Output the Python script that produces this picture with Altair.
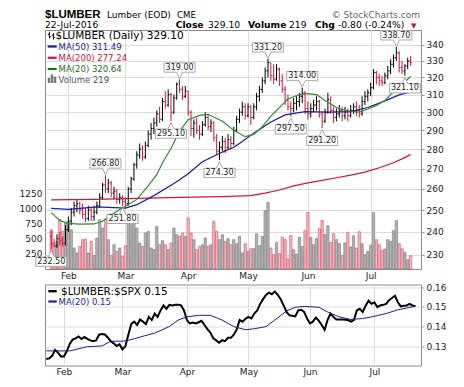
import altair as alt
import pandas as pd

# ---------------- data ----------------
opens = [238,235,234,237,236,235,241,245,249,252,
         253,250,248,246,250,247,249,252,256,262,
         260,263,258,259,255,256,254,253,260,265,
         272,277,280,276,282,288,291,294,299,296,
         306,304,310,300,308,317,313,309,312,300,
         291,294,290,288,293,297,292,294,286,279,
         281,284,281,285,283,290,296,300,303,298,
         303,297,303,309,313,318,324,329,321,319,
         325,318,313,307,303,302,305,306,309,311,
         302,299,302,304,306,299,295,300,307,301,
         297,299,301,298,300,298,301,303,301,299,
         306,309,311,314,323,320,318,317,321,324,
         328,332,335,326,324,327,330]
highs = [240.5,237,239,240,238,243,247,251,254,255,
         254,253,251,252,251,252,254,258,263,266.8,
         265,264,261,260,258,257,256,261,266,273,
         279,283,282,284,290,294,297,301,303,308,
         312,313,311,310,317,319,315,315,312,301,
         296,297,293,295,300,299,296,295,288,284,
         287,286,288,287,292,298,302,306,305,305,
         304,305,311,315,320,326,331.2,329,328,328,
         326,322,315,310,306,308,309,311,314,312,
         306,305,307,309,307,300,302,311,309,303,
         302,304,303,303,302,304,305,306,304,309,
         312,313,317,325,324,322,321,323,327,331,
         334,338.7,336,330,328,332,333]
lows = [232.5,233.5,233,234,233.5,234,240,243,247,249,
        248,246,244.5,245,245,245,248,251,255,258,
        258,256,255,253,253,251.8,252,252,258,264,
        270,275,274,275,281,285,288,292,294,295,
        302,303,295.1,299,307,311,307,308,298,287,
        286,288,285,287,292,290,289,284,277,274.3,
        279,278,280,280,282,289,294,298,296,297,
        293,296,301,306,311,316,320,318,316,318,
        315,311,304,301,297.5,300,301,303,305,299,
        296,297,300,301,297,291.2,294,299,299,294,
        295,297,295,296,295,297,299,298,297,298,
        304,306,309,313,316,315,315,316,319,322,
        326,330,323,322,321.1,325,327]
closes = [235,233.5,237,236,235,241,245,249,252,253,
          250,248,246,250,247,249,252,256,262,260,
          263,258,259,255,256,254,253,260,265,272,
          277,280,276,282,288,291,294,299,296,306,
          304,310,300,308,316,313,309,312,300,291,
          294,290,288,293,297,292,294,286,279,281,
          284,281,285,283,290,296,300,303,298,303,
          297,303,309,313,318,324,329,321,319,325,
          318,313,307,303,302,305,306,309,311,302,
          299,302,304,306,299,295,300,307,301,297,
          299,301,298,300,298,301,303,301,299,306,
          309,311,314,323,320,318,317,321,324,328,
          332,335,326,324,327,329.9,329.1]
volumes = [650,400,457,816,622,760,788,650,348,265,
           374,485,497,265,457,220,513,816,679,816,
           485,220,402,291,348,209,386,762,844,816,
           679,430,374,596,622,348,320,705,402,468,
           402,320,430,679,568,540,596,540,844,596,
           485,320,374,402,513,374,402,788,622,485,
           568,457,502,402,485,419,540,265,419,291,
           336,336,584,386,540,965,1103,348,237,440,
           253,530,485,166,551,320,248,523,374,634,
           937,523,402,502,667,805,568,717,440,584,
           485,419,220,430,606,364,551,348,618,419,
           237,291,391,937,485,402,308,331,485,457,
           634,800,419,336,275,154,219]
ratio = [.1236,.1239,.1252,.1282,.1268,.1249,.1249,.1275,.1312,.1334,
         .1340,.1350,.1337,.1347,.1338,.1330,.1326,.1330,.1359,.1362,
         .1360,.1345,.1326,.1315,.1302,.1310,.1285,.1300,.1359,.1413,
         .1425,.1408,.1436,.1425,.1413,.1449,.1433,.1466,.1449,.1482,
         .1507,.1490,.1510,.1507,.1510,.1511,.1507,.1482,.1433,.1416,
         .1420,.1416,.1422,.1429,.1408,.1387,.1370,.1340,.1330,.1318,
         .1331,.1326,.1343,.1343,.1359,.1385,.1433,.1425,.1440,.1449,
         .1441,.1466,.1482,.1515,.1539,.1560,.1572,.1564,.1577,.1561,
         .1539,.1507,.1474,.1457,.1455,.1452,.1482,.1485,.1474,.1441,
         .1416,.1425,.1446,.1430,.1408,.1384,.1433,.1466,.1449,.1436,
         .1436,.1436,.1435,.1433,.1425,.1433,.1482,.1490,.1474,.1505,
         .1531,.1515,.1523,.1498,.1507,.1510,.1515,.1534,.1545,.1556,
         .1523,.1502,.1505,.1507,.1515,.1507,.1503]

ma20_idx = [0,3,6,10,15,18,22,26,30,34,37,39,42,45,48,52,55,60,64,68,71,74,77,80,83,87,90,93,97,101,105,108,111,114,117,121,124,126]
ma20_val = [248.8,245.2,243.9,243.5,243.6,244.8,248.6,251.8,255,261.5,267,273,280.5,289.5,295.8,298.2,298.8,295,290,286.6,287.8,292,297.8,302.5,307.5,310,310.5,310,305.5,301.8,300.5,300,301.8,303.8,306.6,313.4,317.5,320.6]
ma50_idx = [0,6,16,26,30,36,42,45,48,53,60,64,67,71,77,82,89,97,105,111,117,122,126]
ma50_val = [250.8,250.3,251.5,250.9,252.5,256.8,261.8,264.5,267.5,273.5,278.5,281,284,288.5,294.5,298.5,300.3,300,300.3,302.6,306.4,309.8,311.5]
ma200_idx = [0,15,30,45,60,70,75,80,85,90,95,100,105,110,115,120,123,126]
ma200_val = [254.8,255,255.5,256,256.3,256.8,258,259.5,261.5,263,264.2,265.5,266.8,268.3,270.5,273,275,277.2]
rma_idx = [0,8,14,19,22,26,28,33,37,42,45,48,52,56,60,64,68,71,75,78,82,85,88,93,96,100,104,108,111,116,120,126]
rma_val = [.1277,.1277,.1298,.1302,.1326,.1326,.1330,.1351,.1367,.1400,.1433,.1449,.1457,.1457,.1433,.1400,.1384,.1389,.1400,.1433,.1479,.1498,.1502,.1498,.1474,.1449,.1436,.1441,.1449,.1466,.1485,.1503]

label_idx = [0, 19, 25, 42, 45, 59, 76, 84, 88, 95, 121, 124]
label_val = [232.5, 266.8, 251.8, 295.1, 319.0, 274.3, 331.2, 297.5, 314.0, 291.2, 338.7, 321.1]
label_kind = ['low','high','low','low','high','low','high','low','high','low','high','low']
month_names = ["Feb", "Mar", "Apr", "May", "Jun", "Jul"]
ratio_ticks = [0.13, 0.14, 0.15, 0.16]
price_ticks = [230, 240, 250, 260, 270, 280, 290, 300, 310, 320, 330, 340]
volume_ticks = [250, 500, 750, 1000, 1250]

# ---------------- tables ----------------
dates = pd.bdate_range("2016-01-22", "2016-07-22")
dates = dates[~dates.isin(pd.to_datetime(["2016-02-15", "2016-03-25", "2016-05-30", "2016-07-04"]))]
n = len(dates)
month_idx = [i for i in range(1, n) if dates[i].month != dates[i - 1].month]

df = pd.DataFrame(dict(i=list(range(n)), open=opens, high=highs, low=lows,
                       close=closes, volume=volumes, ratio=ratio))
prev = df["close"].shift(1).fillna(df["open"])
df["dir"] = (df["close"] >= prev).map({True: "up", False: "down"})
df["xo"] = df["i"] - 0.42
df["xc"] = df["i"] + 0.42

ma20 = pd.DataFrame(dict(i=ma20_idx, v=ma20_val))
ma50 = pd.DataFrame(dict(i=ma50_idx, v=ma50_val))
ma200 = pd.DataFrame(dict(i=ma200_idx, v=ma200_val))
rma = pd.DataFrame(dict(i=rma_idx, v=rma_val))
labs = pd.DataFrame(dict(i=label_idx, v=label_val, kind=label_kind))
labs["t"] = labs["v"].map(lambda v: f"{v:.2f}")
ONE = pd.DataFrame({"k": [0]})

# ---------------- scales / axes ----------------
FONT = "DejaVu Sans"
GRID = "#dcdcdc"
MAIN_H = 239
LOW_H = 81
xs = alt.Scale(domain=[-0.44, 127.9], nice=False, zero=False)
ps = alt.Scale(type="log", domain=[224.0, 349.6], nice=False)
vs = alt.Scale(domain=[0, 3957], nice=False)
rs = alt.Scale(domain=[0.1203, 0.1613], nice=False, zero=False)
label_expr = " : ".join(f"datum.value == {m} ? '{lab}'" for m, lab in zip(month_idx, month_names)) + " : ''"

def xaxis():
    return alt.Axis(values=month_idx, labelExpr=label_expr, grid=True, gridColor=GRID,
                    ticks=False, domain=False, labelFontSize=9, labelPadding=2,
                    title=None, minExtent=11, maxExtent=11, labelFlush=False, labelOverlap=False)

def price_axis():
    return alt.Axis(orient="right", values=price_ticks, format="d", grid=True,
                    gridColor=GRID, tickSize=3, tickColor="#999", domain=False,
                    labelFontSize=9, labelPadding=2, title=None, labelOverlap=False)

vol_axis = alt.Axis(orient="left", values=volume_ticks, format="d", grid=False,
                    ticks=False, domain=False, labelFontSize=9, labelPadding=3, title=None,
                    labelOverlap=False)

def ratio_axis():
    return alt.Axis(orient="right", values=ratio_ticks, format=".2f", grid=True,
                    gridColor=GRID, tickSize=3, tickColor="#999", domain=False,
                    labelFontSize=9, labelPadding=2, title=None, labelOverlap=False,
                    labelSeparation=0, labelBound=False)

dir_color = alt.Color("dir:N", scale=alt.Scale(domain=["up", "down"], range=["#000000", "#d4143c"]), legend=None)

def X(f="i"):
    return alt.X(f"{f}:Q", scale=xs, title=None)

def PY(f):
    return alt.Y(f"{f}:Q", scale=ps, axis=price_axis(), title=None)

def txt(s, x, y, size=10, color="#000", weight="normal", font=FONT, align="left"):
    return alt.Chart(ONE).mark_text(text=s, fontSize=size, color=color, fontWeight=weight, font=font,
                                    align=align, baseline="alphabetic").encode(x=alt.value(x), y=alt.value(y))

def hrule(x1, x2, y, color, w):
    return alt.Chart(ONE).mark_rule(color=color, strokeWidth=w).encode(
        x=alt.value(x1), x2=alt.value(x2), y=alt.value(y))

# ---------------- main panel ----------------
vol = alt.Chart(df).mark_bar(size=2.3, strokeWidth=0.7).encode(
    x=alt.X("i:Q", scale=xs, axis=xaxis(), title=None),
    y=alt.Y("volume:Q", scale=vs, axis=vol_axis, title=None),
    fill=alt.Fill("dir:N", scale=alt.Scale(domain=["up", "down"], range=["#b6b6b6", "#f3bac4"]), legend=None),
    stroke=alt.Stroke("dir:N", scale=alt.Scale(domain=["up", "down"], range=["#7f7f7f", "#dc5a72"]), legend=None),
)

hl = alt.Chart(df).mark_rule(strokeWidth=1).encode(x=X(), y=PY("low"), y2="high:Q", color=dir_color)
op = alt.Chart(df).mark_rule(strokeWidth=1).encode(x=X("xo"), x2="i:Q", y=PY("open"), color=dir_color)
cl = alt.Chart(df).mark_rule(strokeWidth=1).encode(x=X(), x2="xc:Q", y=PY("close"), color=dir_color)

l200 = alt.Chart(ma200).mark_line(color="#d4143c", strokeWidth=1.2).encode(x=X(), y=PY("v"))
l50 = alt.Chart(ma50).mark_line(color="#1c1c96", strokeWidth=1.2).encode(x=X(), y=PY("v"))
l20 = alt.Chart(ma20).mark_line(color="#2f8a2f", strokeWidth=1.2).encode(x=X(), y=PY("v"))

HI_PATH = "M0,0L-0.2,-0.42L-1,-0.42L-1,-1.02L1,-1.02L1,-0.42L0.2,-0.42Z"
LO_PATH = "M0,0L0.2,0.42L1,0.42L1,1.02L-1,1.02L-1,0.42L-0.2,0.42Z"
hi = labs[labs["kind"] == "high"]
lo = labs[labs["kind"] == "low"]
hi_box = alt.Chart(hi).mark_point(shape=HI_PATH, size=961, filled=True, fill="white", stroke="#a8a8a8",
                                  strokeWidth=1, opacity=1, yOffset=-0.5).encode(x=X(), y=PY("v"))
hi_txt = alt.Chart(hi).mark_text(fontSize=8, dy=-11.4, baseline="middle", font=FONT, color="#222").encode(
    x=X(), y=PY("v"), text="t:N")
lo_box = alt.Chart(lo).mark_point(shape=LO_PATH, size=961, filled=True, fill="white", stroke="#a8a8a8",
                                  strokeWidth=1, opacity=1, yOffset=1.5).encode(x=X(), y=PY("v"))
lo_txt = alt.Chart(lo).mark_text(fontSize=8, dy=12.6, baseline="middle", font=FONT, color="#222").encode(
    x=X(), y=PY("v"), text="t:N")

price_layer = alt.layer(hl, op, cl, l200, l50, l20, hi_box, hi_txt, lo_box, lo_txt)

OHLC_ICON = "M-0.5,-1V0.7M-0.9,-0.3H-0.5M-0.5,0.3H-0.1M0.5,-0.6V1M0.1,-0.1H0.5M0.5,0.5H0.9"
VOL_ICON = "M-1,1V-0.2H-0.45V1ZM-0.3,1V-1H0.25V1ZM0.4,1V-0.5H1V1Z"
icon1 = alt.Chart(ONE).mark_point(shape=OHLC_ICON, size=64, filled=False, stroke="#000",
                                  strokeWidth=1, opacity=1).encode(x=alt.value(6.4), y=alt.value(5.6))
icon2 = alt.Chart(ONE).mark_point(shape=VOL_ICON, size=72, filled=True, fill="#777",
                                  strokeWidth=0, opacity=1).encode(x=alt.value(7.0), y=alt.value(48.8))

main_text = [
    # header
    txt("$LUMBER", 0, -12.5, size=11.5, weight="bold", font="Liberation Sans"),
    txt("Lumber (EOD)", 62, -12.3, size=9),
    txt("CME", 132, -12.3, size=8.6),
    txt("© StockCharts.com", 375, -12.3, size=9, color="#666", align="right"),
    txt("22-Jul-2016", 0, -1.6, size=9.2),
    txt("Close", 130.7, -1.6, size=9.2, weight="bold"),
    txt("329.10", 163, -1.6, size=9.2),
    txt("Volume", 203, -1.6, size=9.2, weight="bold"),
    txt("219", 244, -1.6, size=9.2),
    txt("Chg", 270, -1.6, size=9.2, weight="bold"),
    txt("-0.80 (-0.24%)", 293, -1.6, size=9.2),
    txt("▼", 366, -2.1, size=7, color="#b3123a"),
    # in-panel legend
    txt("$LUMBER (Daily) 329.10", 10.5, 9.3, size=10.5),
    hrule(2.7, 11.7, 16.5, "#1c1c96", 2.2),
    txt("MA(50) 311.49", 13.6, 19.6, size=8.5, color="#1c1c96"),
    hrule(2.7, 11.7, 27.8, "#d4143c", 2.2),
    txt("MA(200) 277.24", 13.6, 30.8, size=8.5, color="#d4143c"),
    hrule(2.7, 11.7, 39.0, "#1e6e1e", 2.2),
    txt("MA(20) 320.64", 13.6, 42.0, size=8.5, color="#1e6e1e"),
    txt("Volume 219", 13.6, 52.6, size=8.5, color="#555"),
]

main = alt.layer(vol, price_layer, icon1, icon2, *main_text).resolve_scale(y="independent").properties(
    width=376, height=MAIN_H)

# ---------------- lower panel ----------------
rline = alt.Chart(df).mark_line(color="#000", strokeWidth=2).encode(
    x=alt.X("i:Q", scale=xs, axis=xaxis(), title=None),
    y=alt.Y("ratio:Q", scale=rs, axis=ratio_axis(), title=None))
rmal = alt.Chart(rma).mark_line(color="#1c1c96", strokeWidth=1).encode(
    x=alt.X("i:Q", scale=xs, axis=xaxis(), title=None),
    y=alt.Y("v:Q", scale=rs, axis=ratio_axis(), title=None))

lower_text = [
    hrule(3.4, 11.7, 6.7, "#000", 2.4),
    txt("$LUMBER:$SPX 0.15", 16, 10.3, size=10.5),
    hrule(3.4, 11.7, 17.0, "#1c1c96", 2.2),
    txt("MA(20) 0.15", 13.6, 20.5, size=8.5, color="#1c1c96"),
    hrule(-35.3, -34.8, 40, "#ffffff", 0.5),
]

lower = alt.layer(rline, rmal, *lower_text).properties(width=376, height=LOW_H)

chart = alt.vconcat(main, lower, spacing=1.5).properties(
    padding={"left": 0, "top": 0, "right": 0, "bottom": 0}, background="white"
).configure_view(stroke="#8c8c8c", strokeWidth=1).configure_axis(
    labelFont=FONT, labelColor="#222", labelOverlap=False)

chart.save("out.html", embed_options={"renderer": "svg", "actions": False})
